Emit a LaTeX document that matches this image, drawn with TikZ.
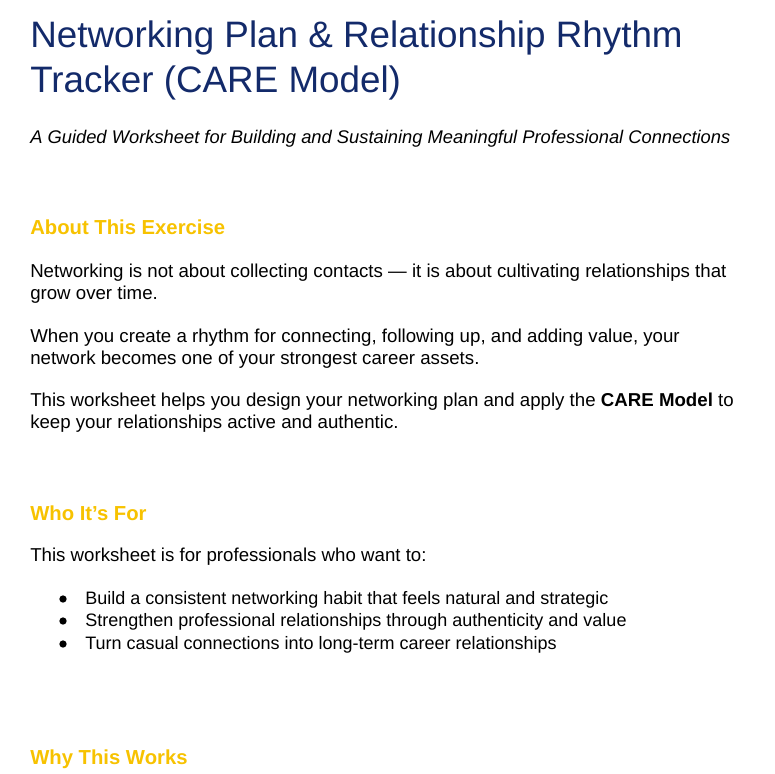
\documentclass[tikz,border=0pt]{standalone}
\usepackage{fontspec}
\setmainfont{Liberation Sans}
\definecolor{navy}{HTML}{132A6A}
\definecolor{gold}{HTML}{F7C200}
\begin{document}
\begin{tikzpicture}[x=0.75pt,y=-0.75pt,
  ttl/.style={anchor=base west,inner sep=0,text=navy,font=\fontsize{27.6}{32}\selectfont},
  sub/.style={anchor=base west,inner sep=0,font=\fontsize{13.75}{16}\selectfont\itshape},
  hd/.style={anchor=base west,inner sep=0,text=gold,font=\fontsize{15.2}{18}\selectfont\bfseries},
  bd/.style={anchor=base west,inner sep=0,font=\fontsize{14}{16}\selectfont},
  bl/.style={anchor=base west,inner sep=0,font=\fontsize{13.5}{16}\selectfont},
  bul/.style={circle,fill=black,inner sep=0,minimum size=5.5pt}]
\useasboundingbox (0,0) rectangle (775,774);
\node[ttl] (t1) at (30,48) {Networking Plan \& Relationship Rhythm};
\node[ttl] (t2) at (30,93) {Tracker (CARE Model)};
\node[sub] (s) at (30,143) {A Guided Worksheet for Building and Sustaining Meaningful Professional Connections};
\node[hd] (h1) at (30,234) {About This Exercise};
\node[bd] (a1) at (30,277) {Networking is not about collecting contacts — it is about cultivating relationships that};
\node[bd] (a2) at (30,299) {grow over time.};
\node[bd] (b1) at (30,342) {When you create a rhythm for connecting, following up, and adding value, your};
\node[bd] (b2) at (30,364) {network becomes one of your strongest career assets.};
\node[bd] (c1) at (30,406) {This worksheet helps you design your networking plan and apply the \textbf{CARE Model} to};
\node[bd] (c2) at (30,428) {keep your relationships active and authentic.};
\node[hd] (h2) at (30,520) {Who It’s For};
\node[bd] (d1) at (30,561) {This worksheet is for professionals who want to:};
\node[bul] (p1) at (63,599) {};
\node[bul] (p2) at (63,621) {};
\node[bul] (p3) at (63,644) {};
\node[bl] (e1) at (85,604) {Build a consistent networking habit that feels natural and strategic};
\node[bl] (e2) at (85,626) {Strengthen professional relationships through authenticity and value};
\node[bl] (e3) at (85,649) {Turn casual connections into long-term career relationships};
\node[hd] (h3) at (30,764) {Why This Works};
\end{tikzpicture}
\end{document}
